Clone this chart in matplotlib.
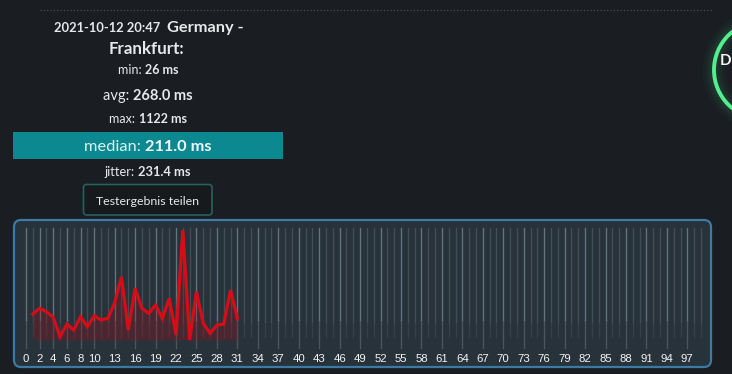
import matplotlib
matplotlib.use('Agg')
import matplotlib.pyplot as plt
from matplotlib.patches import FancyBboxPatch, Rectangle, Circle

W, H = 732, 374

# ---- data ----
x_index = list(range(100))
ping_x = list(range(1, 32))
ping_ms = [285, 342, 308, 252, 59, 185, 126, 258, 158, 268, 225, 242, 395, 657, 126,
           541, 342, 292, 375, 242, 441, 76, 1122, 26, 507, 192, 93, 175, 185, 524, 242]
tick_labels = [0, 2, 4, 6, 8, 10] + list(range(13, 98, 3))

title_date = "2021-10-12 20:47"
title_loc1 = "Germany -"
title_loc2 = "Frankfurt:"
stat_min = "26 ms"
stat_avg = "268.0 ms"
stat_max = "1122 ms"
stat_median = "211.0 ms"
stat_jitter = "231.4 ms"
button_text = "Testergebnis teilen"

BG = '#1a1e22'
TXT = '#e6e8ea'
FONT = ['Lato', 'DejaVu Sans']

fig = plt.figure(figsize=(W / 100, H / 100), dpi=100, facecolor=BG)
bg = fig.add_axes([0, 0, 1, 1])
bg.set_xlim(0, W)
bg.set_ylim(H, 0)
bg.axis('off')
bg.set_facecolor(BG)

# dotted separator
bg.plot([40, 712], [10, 10], color='#50565c', lw=0.8, linestyle=(0, (1, 2)))

# green circle at right edge with glow
for lw, a in [(16, 0.03), (11, 0.04), (7, 0.05)]:
    bg.add_patch(Circle((763, 70), 49, fill=False, ec='#52ef8e', lw=lw, alpha=a))
bg.add_patch(Circle((763, 70), 49, fill=False, ec='#52ef8e', lw=2.8))
bg.text(720, 65, "D", color='#f2f2f2', fontsize=11, fontweight='bold',
        family=FONT, va='baseline', ha='left')

# median bar
bg.add_patch(Rectangle((13, 131.5), 270, 27.5, fc='#0c8891', ec='none'))

# button
bg.add_patch(FancyBboxPatch((83.5, 184.5), 128.5, 30.5,
                            boxstyle='round,pad=0,rounding_size=3',
                            fc='#161a1d', ec='#27605d', lw=1.2))

fig.canvas.draw()
renderer = fig.canvas.get_renderer()


def mixed(y, parts, cx=148, gap=0.0):
    texts = []
    for (s, weight, size, color) in parts:
        t = bg.text(0, y, s, fontsize=size, fontweight=weight, color=color,
                    family=FONT, va='baseline', ha='left')
        texts.append(t)
    widths = [t.get_window_extent(renderer).width for t in texts]
    total = sum(widths) + gap * (len(texts) - 1)
    x = cx - total / 2
    for t, w in zip(texts, widths):
        t.set_x(x)
        x += w + gap


mixed(31.7, [(title_date, 'bold', 9.3, TXT), (title_loc1, 'bold', 11.8, TXT)], cx=149, gap=7)
mixed(54.3, [(title_loc2, 'bold', 12.2, TXT)], cx=146.5)
mixed(74, [("min: ", 'normal', 9.0, TXT), (stat_min, 'bold', 9.0, TXT)], cx=148.5)
mixed(100, [("avg: ", 'normal', 10.5, TXT), (stat_avg, 'bold', 10.5, TXT)], cx=148)
mixed(123.3, [("max: ", 'normal', 9.0, TXT), (stat_max, 'bold', 9.0, TXT)], cx=148)
mixed(150.7, [("median: ", 'normal', 11.8, '#dff3f4'), (stat_median, 'bold', 11.8, '#eefafa')], cx=148)
mixed(175.7, [("jitter: ", 'normal', 9.3, TXT), (stat_jitter, 'bold', 9.3, TXT)], cx=147.5)
mixed(204.5, [(button_text, 'normal', 8.9, TXT)], cx=148)

# chart panel
bg.add_patch(FancyBboxPatch((14, 220), 697, 147,
                            boxstyle='round,pad=0,rounding_size=7',
                            fc='#27323a', ec='#3a7aa3', lw=1.6))

# chart axes
top_px, bot_px = 228, 340
ax = fig.add_axes([26 / W, (H - bot_px) / H, 675 / W, (bot_px - top_px) / H])
ax.set_facecolor('none')
ymin = min(ping_ms)
ymax = max(ping_ms)
ax.set_xlim(0, 99)
ax.set_ylim(ymin, ymin + (ymax - ymin) * (bot_px - top_px) / (bot_px - 230))
for s in ax.spines.values():
    s.set_visible(False)

xt = ax.get_xaxis_transform()
span = bot_px - top_px


def frac(px):
    return (bot_px - px) / span


for i in x_index:
    if i in tick_labels:
        ax.plot([i, i], [frac(320), 1], transform=xt, color='#63747e',
                lw=1.0, clip_on=False, zorder=1)
        ax.plot([i, i], [frac(348), frac(320)], transform=xt, color='#63747e',
                lw=1.0, alpha=0.55, clip_on=False, zorder=1)
    else:
        ax.plot([i, i], [frac(322), 1], transform=xt, color='#404e57',
                lw=1.0, clip_on=False, zorder=1)
        ax.plot([i, i], [frac(337), frac(322)], transform=xt, color='#404e57',
                lw=1.0, alpha=0.55, clip_on=False, zorder=1)

ax.fill_between(ping_x, ping_ms, ymin, color='#9c0f1a', alpha=0.3, lw=0, zorder=2)
ax.plot(ping_x, ping_ms, color='#d40d18', lw=2.3, solid_joinstyle='miter',
        zorder=3, clip_on=False)

ax.set_xticks(tick_labels)
ax.set_xticklabels([str(t) for t in tick_labels], family=['Liberation Sans', 'DejaVu Sans'])
ax.tick_params(axis='x', length=0, pad=10, labelsize=8.2, labelcolor='#f4f4f4')
ax.set_yticks([])

fig.savefig('out.png', dpi=100, facecolor=BG)
